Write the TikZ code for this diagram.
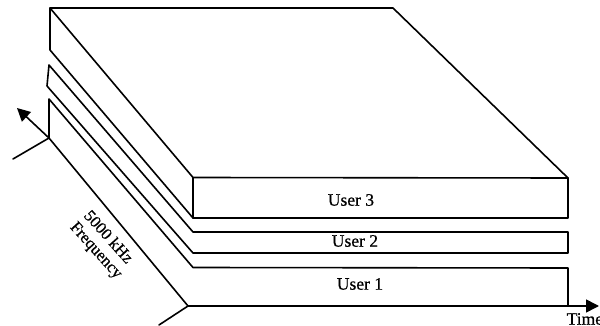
\documentclass[tikz,border=0pt]{standalone}
\usepackage{fontspec}
\setmainfont[FakeBold=0.6]{Liberation Serif}
\usetikzlibrary{arrows.meta}
\tikzset{
  edge/.style={draw=black,line width=1.6pt,line join=round,line cap=round},
  axisarrow/.style={edge,-{Triangle[length=13pt,width=13pt]}},
  lbl/.style={inner sep=0pt,font=\fontsize{17.5pt}{20pt}\selectfont},
  rotlbl/.style={inner sep=0pt,rotate=-48,font=\fontsize{16.5pt}{19pt}\selectfont},
}
\begin{document}
\begin{tikzpicture}[x=1pt,y=-1pt]
\useasboundingbox[clip] (0,0) rectangle (600,326);
% top block
\coordinate (a) at (50,8); \coordinate (b) at (393,8);
\coordinate (c) at (568,178); \coordinate (d) at (193,177.5);
\coordinate (e) at (193,218); \coordinate (f) at (568,218);
\coordinate (g) at (50,50);
\draw[edge] (g) -- (a) -- (b) -- (c) -- (f) -- (e) -- (g);
\draw[edge] (a) -- (d) -- (c);
\draw[edge] (d) -- (e);
% middle block
\coordinate (m1) at (49,65); \coordinate (m2) at (47,86);
\coordinate (m3) at (193,232); \coordinate (m4) at (193,253);
\coordinate (m5) at (568,232); \coordinate (m6) at (568,253);
\draw[edge] (m2) -- (m1) -- (m3) -- (m5) -- (m6) -- (m4) -- (m2);
% lower block
\coordinate (l1) at (49,99); \coordinate (l2) at (49,138);
\coordinate (l3) at (193,267.5); \coordinate (l4) at (188,306);
\coordinate (l5) at (568,268); \coordinate (l6) at (568,306);
\draw[edge] (l2) -- (l1) -- (l3) -- (l5) -- (l6);
\draw[edge] (l2) -- (l4);
% axes
\coordinate (t) at (599,306); \coordinate (ft) at (17,108);
\coordinate (w1) at (13,159); \coordinate (w2) at (159,325);
\draw[axisarrow] (l4) -- (t);
\draw[axisarrow] (l2) -- (ft);
\draw[edge] (l2) -- (w1);
\draw[edge] (l4) -- (w2);
% labels
\node[lbl] (u3) at (351,200) {User 3};
\node[lbl] (u2) at (355,241) {User 2};
\node[lbl] (u1) at (360,284) {User 1};
\node[lbl,anchor=west] (time) at (566.5,319) {Time};
\node[rotlbl] (khz) at (109,236.5) {5000 kHz};
\node[rotlbl] (freq) at (95.5,251) {Frequency};
\end{tikzpicture}
\end{document}
